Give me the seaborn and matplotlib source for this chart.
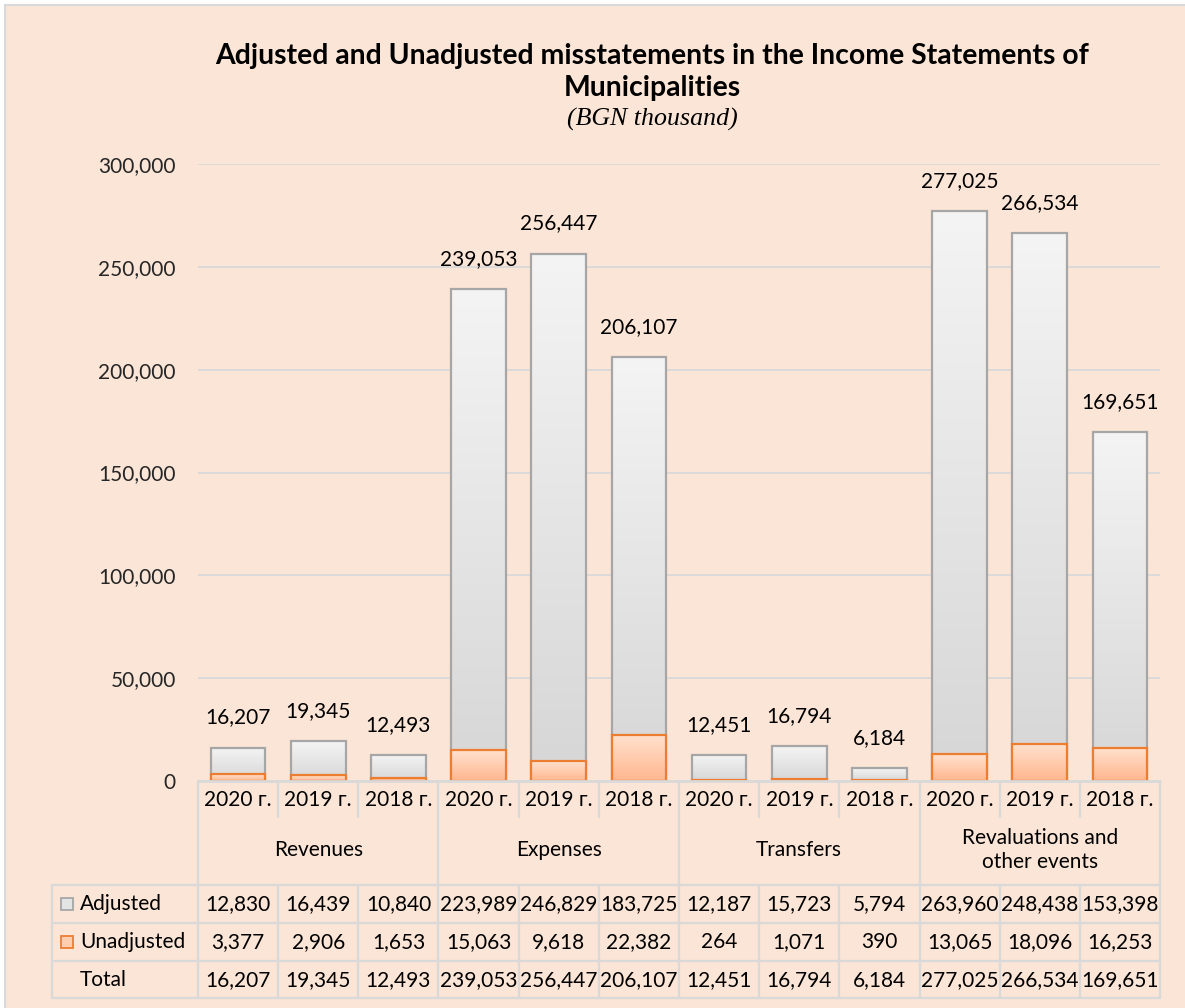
import matplotlib
matplotlib.use("Agg")
import matplotlib.pyplot as plt
from matplotlib.colors import LinearSegmentedColormap
from matplotlib.patches import Rectangle
from matplotlib.ticker import FuncFormatter
import seaborn as sns
import numpy as np

# data
categories = ["Revenues", "Expenses", "Transfers", "Revaluations and\nother events"]
years = ["2020 г.", "2019 г.", "2018 г."]
adjusted = [12830, 16439, 10840, 223989, 246829, 183725, 12187, 15723, 5794, 263960, 248438, 153398]
unadjusted = [3377, 2906, 1653, 15063, 9618, 22382, 264, 1071, 390, 13065, 18096, 16253]
totals = [16207, 19345, 12493, 239053, 256447, 206107, 12451, 16794, 6184, 277025, 266534, 169651]

BG = "#FBE5D6"
GRID = "#D9D9D9"
FONT = ["Lato", "DejaVu Sans"]

sns.set_theme(style="white")
plt.rcParams["font.family"] = FONT
plt.rcParams["text.color"] = "black"

W, H = 1185, 1008
fig = plt.figure(figsize=(W / 100, H / 100), dpi=100, facecolor="white")
bg = Rectangle((5 / W, -0.02), 1.05, (H - 5) / H + 0.02, transform=fig.transFigure,
               facecolor=BG, edgecolor=GRID, lw=1.5, zorder=-10)
fig.add_artist(bg)

ax_l, ax_r, ax_t, ax_b = 198, 1160, 164, 781
ax = fig.add_axes([ax_l / W, (H - ax_b) / H, (ax_r - ax_l) / W, (ax_b - ax_t) / H])
ax.set_facecolor("none")

x = list(range(len(totals)))
sns.barplot(x=x, y=totals, color="#E6E6E6", width=0.68, ax=ax, saturation=1)
gray_bars = list(ax.patches)
sns.barplot(x=x, y=unadjusted, color="#FFCCAA", width=0.68, ax=ax, saturation=1)
orange_bars = [p for p in ax.patches if p not in gray_bars]

gray_cm = LinearSegmentedColormap.from_list("g", ["#D6D6D6", "#F4F4F4"])
orange_cm = LinearSegmentedColormap.from_list("o", ["#FFB68E", "#FFE2CF"])
grad = np.linspace(0, 1, 256).reshape(-1, 1)


def fill_gradient(patches, cmap, edge, z):
    for p in patches:
        x0, y0 = p.get_xy()
        w, h = p.get_width(), p.get_height()
        im = ax.imshow(grad, extent=[x0, x0 + w, y0, y0 + h], origin="lower",
                       cmap=cmap, aspect="auto", zorder=z, interpolation="bilinear")
        im.set_clip_path(p)
        p.set_facecolor("none")
        p.set_edgecolor(edge)
        p.set_linewidth(1.6)
        p.set_zorder(z + 0.05)


fill_gradient(gray_bars, gray_cm, "#A6A6A6", 2)
fill_gradient(orange_bars, orange_cm, "#ED7D31", 2.2)

# total labels above bars
for xi, t in zip(x, totals):
    ax.annotate(f"{t:,}", (xi, t), xytext=(0, 14.5), textcoords="offset points",
                ha="center", va="bottom", fontsize=15)

ax.set_xlim(-0.5, 11.5)
ax.set_ylim(0, 300000)
ax.set_yticks(range(0, 300001, 50000))
ax.yaxis.set_major_formatter(FuncFormatter(lambda v, _: f"{int(v):,}"))
ax.tick_params(axis="y", length=0, pad=16, labelsize=15)
ax.set_xticks([])
ax.set_xlabel("")
ax.grid(axis="y", color=GRID, lw=1.3)
ax.set_axisbelow(True)
for s in ax.spines.values():
    s.set_visible(False)
ax.axhline(0, color=GRID, lw=2, zorder=3, clip_on=False)

# data table under the plot
hpx = ax_b - ax_t
wpx = ax_r - ax_l


def fy(ypx):
    return (ax_b - ypx) / hpx


def fx(xpx):
    return (xpx - ax_l) / wpx


xt = ax.get_xaxis_transform()
line_kw = dict(color=GRID, lw=1.6, clip_on=False, zorder=3)
tsize = 15

for xi in x:
    ax.text(xi, fy(800), years[xi % 3], transform=xt, ha="center", va="center", fontsize=tsize)
for ci, cat in enumerate(categories):
    ax.text(ci * 3 + 1, fy(850), cat, transform=xt, ha="center", va="center",
            fontsize=tsize, linespacing=1.25)

# separators in year row
for b in np.arange(-0.5, 12, 1):
    if b in (-0.5, 2.5, 5.5, 8.5, 11.5):
        ax.plot([b, b], [0, fy(885)], transform=xt, **line_kw)
    else:
        ax.plot([b, b], [0, fy(817)], transform=xt, **line_kw)

rows = [("Adjusted", adjusted, 904), ("Unadjusted", unadjusted, 942), ("Total", totals, 980)]
row_lines = [885, 923, 961, 998]
for yl in row_lines:
    ax.plot([fx(52), 1.0], [fy(yl), fy(yl)], transform=ax.transAxes, **line_kw)
ax.plot([fx(52), fx(52)], [fy(885), fy(998)], transform=ax.transAxes, **line_kw)
for b in np.arange(-0.5, 12, 1):
    ax.plot([b, b], [fy(885), fy(998)], transform=xt, **line_kw)

for name, vals, ypx in rows:
    for xi, v in zip(x, vals):
        ax.text(xi, fy(ypx), f"{v:,}", transform=xt, ha="center", va="center", fontsize=tsize)
    ax.text(fx(80), fy(ypx), name, transform=ax.transAxes, ha="left", va="center", fontsize=tsize)

# legend keys
for (face, edge), ypx in [(("#E4E4E4", "#A6A6A6"), 904), (("#FFCDB0", "#ED7D31"), 942)]:
    ax.add_patch(Rectangle((fx(61), fy(ypx + 6)), 12 / wpx, 12 / hpx, transform=ax.transAxes,
                           facecolor=face, edgecolor=edge, lw=1.3, clip_on=False, zorder=4))

# titles
fig.text(652 / W, 1 - 56 / H, "Adjusted and Unadjusted misstatements in the Income Statements of",
         ha="center", va="center", fontsize=20.4, fontweight="bold")
fig.text(652 / W, 1 - 88 / H, "Municipalities", ha="center", va="center", fontsize=20.4, fontweight="bold")
fig.text(652 / W, 1 - 119 / H, "(BGN thousand)", ha="center", va="center", fontsize=18.6,
         style="italic", family=["Liberation Serif", "DejaVu Serif"])

fig.savefig("out.png", dpi=100, facecolor=fig.get_facecolor())
